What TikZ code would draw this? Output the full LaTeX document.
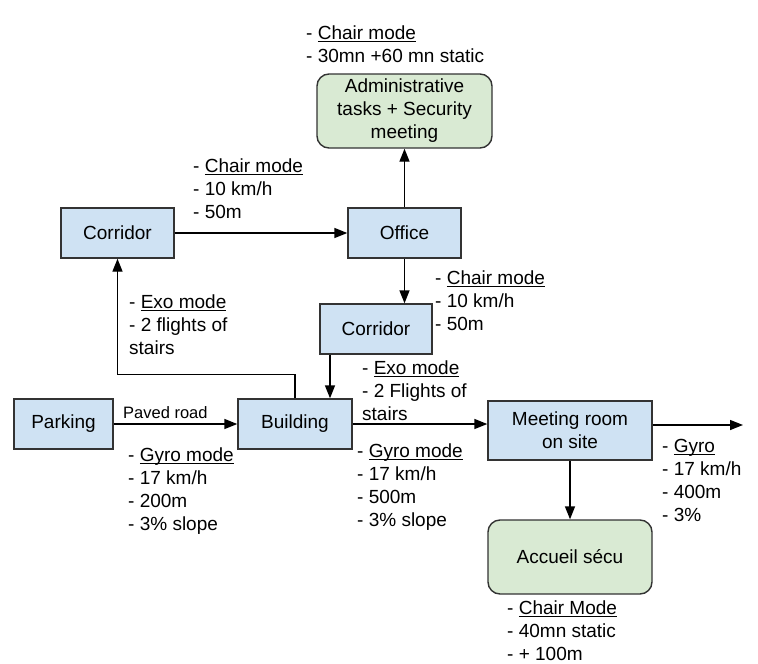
\documentclass[tikz,border=0pt]{standalone}
\usepackage{fontspec}
\setmainfont{Liberation Sans}
\usetikzlibrary{arrows.meta}
\definecolor{boxblue}{HTML}{CFE2F3}
\definecolor{boxgreen}{HTML}{D9EAD3}
\definecolor{boxline}{HTML}{333333}
\newcommand\ulm[1]{\vtop{\hbox{\raisebox{0pt}[\height][0pt]{#1}}\kern1.6pt\hrule height 1.3pt}}
\newcommand\fs{\rule{0pt}{14pt}}
\begin{document}
\begin{tikzpicture}[x=1pt,y=-1pt,
  bbox/.style={draw=boxline, line width=1.4pt, fill=boxblue, align=center, inner sep=0pt,
    font=\fontsize{19}{23}\selectfont},
  gbox/.style={bbox, fill=boxgreen, rounded corners=12pt},
  lbl/.style={anchor=north west, inner sep=0pt, align=left, font=\fontsize{19}{23}\selectfont},
  arr/.style={line width=1.4pt, -{Triangle[length=13pt,width=10pt]}}
]
\useasboundingbox (0,0) rectangle (758,664);
% boxes
\node[bbox, minimum width=113, minimum height=50] (cL) at (117.5,233) {Corridor};
\node[bbox, minimum width=113, minimum height=50] (off) at (404.5,233) {Office};
\node[gbox, minimum width=175, minimum height=74] (adm) at (404.5,111) {Administrative\\tasks + Security\\meeting};
\node[bbox, minimum width=112, minimum height=50] (cM) at (376,329) {Corridor};
\node[bbox, minimum width=99, minimum height=50] (park) at (63.5,424) {Parking};
\node[bbox, minimum width=114, minimum height=50] (bld) at (295,424) {Building};
\node[bbox, minimum width=164, minimum height=59] (mtg) at (570,430.5) {Meeting room\\on site};
\node[gbox, minimum width=164, minimum height=74] (acc) at (570,557) {Accueil sécu};
\coordinate (out) at (743,425);
% connectors
\draw[arr] (cL.east) -- (off.west);
\draw[arr] (off.north) -- (adm.south);
\draw[arr] (off.south) -- (off.south |- cM.north);
\draw[arr] ([xshift=-46pt]cM.south) -- ([xshift=-46pt]cM.south |- bld.north);
\draw[arr] (bld.north) -- ++(0,-24) -| (cL.south);
\draw[arr] (park.east) -- (bld.west);
\draw[arr] (bld.east) -- (bld.east -| mtg.west);
\draw[arr] (out -| mtg.east) -- (out);
\draw[arr] (mtg.south) -- (acc.north);
% labels
\node[lbl] (l1) at (306,25) {\fs- \ulm{Chair mode}\\- 30mn +60 mn static};
\node[lbl] (l2) at (193,158) {\fs- \ulm{Chair mode}\\- 10 km/h\\- 50m};
\node[lbl] (l3) at (435,270) {\fs- \ulm{Chair mode}\\- 10 km/h\\- 50m};
\node[lbl] (l4) at (129,294) {\fs- \ulm{Exo mode}\\- 2 flights of\\stairs};
\node[lbl] (l5) at (362,360) {\fs- \ulm{Exo mode}\\- 2 Flights of\\stairs};
\node[inner sep=0pt, anchor=base west, font=\fontsize{16.5}{20}\selectfont] (l6) at (123,418) {Paved road};
\node[lbl] (l7) at (128,447) {\fs- \ulm{Gyro mode}\\- 17 km/h\\- 200m\\- 3\% slope};
\node[lbl] (l8) at (357,443) {\fs- \ulm{Gyro mode}\\- 17 km/h\\- 500m\\- 3\% slope};
\node[lbl] (l9) at (662,438) {\fs- \ulm{Gyro}\\- 17 km/h\\- 400m\\- 3\%};
\node[lbl] (l10) at (507,600) {\fs- \ulm{Chair Mode}\\- 40mn static\\- + 100m};
\end{tikzpicture}
\end{document}
